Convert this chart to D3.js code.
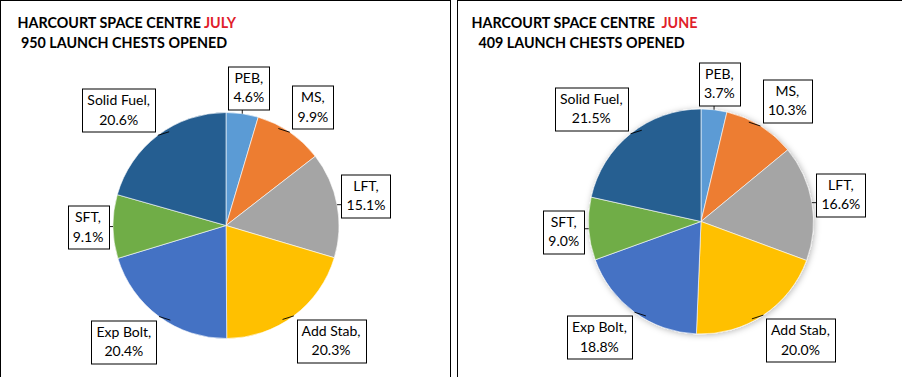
<!DOCTYPE html>
<html>
<head>
<meta charset="utf-8">
<script src="https://cdn.jsdelivr.net/npm/d3@7"></script>
<style>
  body { margin: 0; background: #fff; }
  svg { display: block; }
</style>
</head>
<body>
<div id="wrapper"></div>
<script>
const categories = ['PEB', 'MS', 'LFT', 'Add Stab', 'Exp Bolt', 'SFT', 'Solid Fuel']
const julyValues = [4.6, 9.9, 15.1, 20.3, 20.4, 9.1, 20.6]
const juneValues = [3.7, 10.3, 16.6, 20.0, 18.8, 9.0, 21.5]
const sliceColors = ['#5B9BD5', '#ED7D31', '#A5A5A5', '#FFC000', '#4472C4', '#70AD47', '#255E91']

const dms = { width: 902, height: 377 }

const svg = d3.select('#wrapper')
    .append('svg')
    .attr('width', dms.width)
    .attr('height', dms.height)

// soft halo used by the June pie
const defs = svg.append('defs')
defs.append('filter')
    .attr('id', 'halo')
    .attr('x', '-20%').attr('y', '-20%')
    .attr('width', '140%').attr('height', '140%')
    .append('feDropShadow')
    .attr('dx', 1).attr('dy', 1)
    .attr('stdDeviation', 3)
    .attr('flood-color', '#000')
    .attr('flood-opacity', 0.28)

const colorScale = d3.scaleOrdinal()
    .domain(categories)
    .range(sliceColors)

const panels = [
    { x: 0.5, w: 450, title: 'HARCOURT SPACE CENTRE ', month: 'JULY', sub: ' 950 LAUNCH CHESTS OPENED',
      values: julyValues, cx: 226, cy: 225.5, r: 113, tx: 17, shadow: false },
    { x: 457.5, w: 460, title: 'HARCOURT SPACE CENTRE  ', month: 'JUNE', sub: '  409 LAUNCH CHESTS OPENED',
      values: juneValues, cx: 701, cy: 221.5, r: 112.5, tx: 14, shadow: true }
]

const drawPanel = (p) => {
    const g = svg.append('g')

    g.append('rect')
        .attr('x', p.x)
        .attr('y', 0.5)
        .attr('width', p.w)
        .attr('height', dms.height + 10)
        .attr('fill', '#fff')
        .attr('stroke', '#000')
        .attr('stroke-width', 1)

    const title = g.append('text')
        .attr('x', p.x + p.tx)
        .attr('y', 27.5)
        .style('font-family', 'Lato, sans-serif')
        .style('font-weight', 'bold')
        .style('font-size', '14.3px')
        .style('white-space', 'pre')
        .attr('fill', '#000')
    title.append('tspan').text(p.title)
    title.append('tspan').attr('fill', '#E0202A').text(p.month)

    g.append('text')
        .attr('x', p.x + p.tx)
        .attr('y', 47.5)
        .style('font-family', 'Lato, sans-serif')
        .style('font-weight', 'bold')
        .style('font-size', '14.3px')
        .style('white-space', 'pre')
        .attr('fill', '#000')
        .text(p.sub)

    const rows = categories.map((c, i) => ({ name: c, value: p.values[i] }))
    const pie = d3.pie()
        .value(d => d.value)
        .sort(null)
    const arcs = pie(rows)
    const arc = d3.arc()
        .innerRadius(0)
        .outerRadius(p.r)

    const bounds = g.append('g')
        .attr('transform', `translate(${p.cx}, ${p.cy})`)

    const slices = bounds.append('g')
    if (p.shadow) slices.attr('filter', 'url(#halo)')
    slices.selectAll('path')
        .data(arcs)
        .join('path')
        .attr('d', arc)
        .attr('fill', d => colorScale(d.data.name))
        .attr('stroke', '#fff')
        .attr('stroke-width', 0.6)

    // labels: boxes hug a ring just outside the pie, Excel "best fit" style
    const ring = p.r + 4.5
    const labels = bounds.append('g')
    arcs.forEach(d => {
        const a = (d.startAngle + d.endAngle) / 2
        const s = Math.sin(a), c = Math.cos(a)
        const lg = labels.append('g')
        const t = lg.append('text')
            .attr('text-anchor', 'middle')
            .style('font-family', 'Lato, sans-serif')
            .style('font-size', '14px')
            .attr('fill', '#000')
        t.append('tspan').attr('x', 0).attr('y', -3).text(d.data.name + ',')
        t.append('tspan').attr('x', 0).attr('y', 16.5).text(d3.format('.1f')(d.data.value) + '%')
        const tw = t.node().getBBox().width
        const w = Math.round(tw + 10)
        const h = 43
        const k = 0.5
        const fx = Math.max(-1, Math.min(1, s / k))
        const fy = Math.max(-1, Math.min(1, c / k))
        const px = ring * s, py = -ring * c
        const bx = px + (w / 2) * fx
        const by = py - (h / 2) * fy
        t.attr('transform', `translate(${bx}, ${by - 2})`)
        lg.insert('rect', 'text')
            .attr('x', Math.round(bx - w / 2) + 0.5)
            .attr('y', Math.round(by - h / 2) + 0.5)
            .attr('width', w)
            .attr('height', h)
            .attr('fill', '#fff')
            .attr('stroke', '#000')
            .attr('stroke-width', 1)

        // leader line from the slice edge to the box
        const ax = p.r * s, ay = -p.r * c
        let ex = Math.max(bx - w / 2, Math.min(bx + w / 2, ax))
        let ey = Math.max(by - h / 2, Math.min(by + h / 2, ay))
        if (Math.abs(fx) === 1 && Math.abs(fy) === 1) {
            ex -= Math.sign(fx) * 14
        }
        lg.insert('line', 'rect')
            .attr('x1', ax).attr('y1', ay)
            .attr('x2', ex).attr('y2', ey)
            .attr('stroke', '#000')
            .attr('stroke-width', 0.9)
    })
}

panels.forEach(drawPanel)
</script>
</body>
</html>
